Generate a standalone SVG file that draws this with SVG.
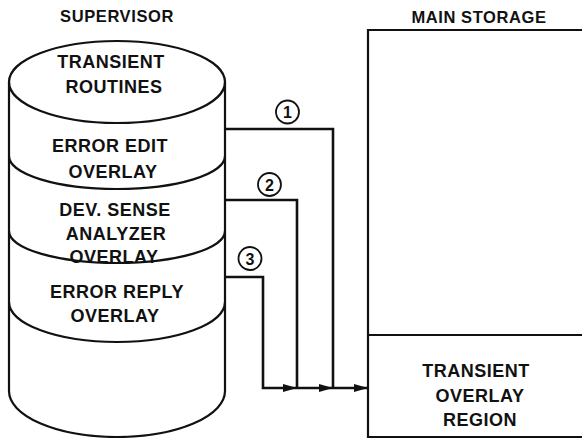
<svg xmlns="http://www.w3.org/2000/svg" width="582" height="438" viewBox="0 0 582 438">
<defs>
<style>
.t{font-family:"Liberation Sans",Arial,sans-serif;font-weight:bold;font-size:18px;letter-spacing:0.5px;fill:#111;text-anchor:middle}
.h{font-size:16.5px;letter-spacing:0.6px}
.n{font-size:16px;letter-spacing:0}
.ln{fill:none;stroke:#111;stroke-width:2.2}
.cn{fill:none;stroke:#111;stroke-width:2.6}
.c{fill:#fff;stroke:#111;stroke-width:1.8}
</style>
<marker id="ah" viewBox="0 0 14 8" refX="14" refY="4" markerWidth="14" markerHeight="8" markerUnits="userSpaceOnUse" orient="auto">
<path d="M0,0 L14,4 L0,8 Z" fill="#111"/>
</marker>
</defs>
<rect width="582" height="438" fill="#fff"/>
<g id="supervisor">
<text class="t h" x="117" y="22">SUPERVISOR</text>
<ellipse class="ln" cx="117" cy="82" rx="108" ry="41"/>
<path class="ln" d="M9,82 V391 A108,46 0 0 0 225,391 V82"/>
<path class="ln" d="M9,156 A108,33 0 0 0 225,156"/>
<path class="ln" d="M9,231 A108,32 0 0 0 225,231"/>
<path class="ln" d="M9,302 A108,40 0 0 0 225,302"/>
</g>
<g id="transient-routines">
<text class="t" x="111" y="68">TRANSIENT</text>
<text class="t" x="114" y="93">ROUTINES</text>
</g>
<g id="error-edit">
<text class="t" x="110" y="152">ERROR EDIT</text>
<text class="t" x="113" y="178">OVERLAY</text>
</g>
<g id="dev-sense">
<text class="t" x="115" y="216">DEV. SENSE</text>
<text class="t" x="116" y="240">ANALYZER</text>
<text class="t" x="114" y="263">OVERLAY</text>
</g>
<g id="error-reply">
<text class="t" x="117" y="298">ERROR REPLY</text>
<text class="t" x="115" y="322">OVERLAY</text>
</g>
<g id="main-storage">
<text class="t h" x="479" y="23">MAIN STORAGE</text>
<path class="ln" d="M584,30 H368 V437 H584"/>
</g>
<g id="transient-overlay-region">
<path class="ln" d="M368,335 H584"/>
<text class="t" x="476" y="377">TRANSIENT</text>
<text class="t" x="480" y="402">OVERLAY</text>
<text class="t" x="480" y="426">REGION</text>
</g>
<g id="connectors">
<path class="cn" d="M225,129 H333 V388"/>
<path class="cn" d="M225,200 H297 V388"/>
<path class="cn" d="M225,277 H263 V388 H297" marker-end="url(#ah)"/>
<path class="cn" d="M297,388 H333" marker-end="url(#ah)"/>
<path class="cn" d="M333,388 H368" marker-end="url(#ah)"/>
<circle class="c" cx="287.5" cy="112" r="11.5"/>
<text class="t n" x="287.5" y="118">1</text>
<circle class="c" cx="269.5" cy="184.5" r="11.5"/>
<text class="t n" x="269.5" y="190.5">2</text>
<circle class="c" cx="250" cy="258.5" r="11.5"/>
<text class="t n" x="250" y="264.5">3</text>
</g>
</svg>
